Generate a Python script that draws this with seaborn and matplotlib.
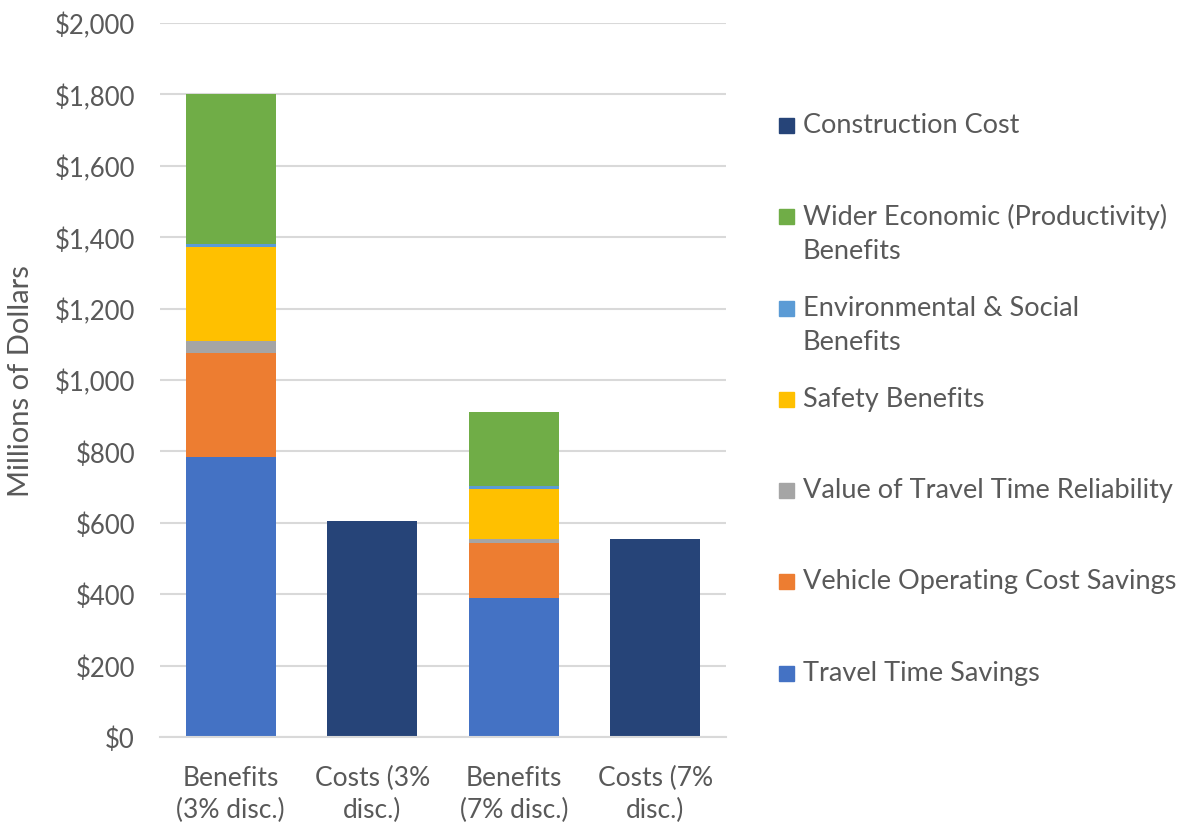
import numpy as np
import pandas as pd
import matplotlib
matplotlib.use("Agg")
import matplotlib.pyplot as plt
import seaborn as sns
from matplotlib.patches import Rectangle
from matplotlib.ticker import FuncFormatter

# categories on the x axis
categories = ["Benefits\n(3% disc.)", "Costs (3%\ndisc.)", "Benefits\n(7% disc.)", "Costs (7%\ndisc.)"]

# stacked series, bottom to top (millions of dollars)
travel_time = [785, 0, 389, 0]
vehicle_operating = [290, 0, 153, 0]
reliability = [34, 0, 13, 0]
safety = [264, 0, 139, 0]
environmental = [8, 0, 8, 0]
wider_economic = [420, 0, 207, 0]
construction = [0, 604, 0, 556]

series_names = ["Travel Time Savings", "Vehicle Operating Cost Savings",
                "Value of Travel Time Reliability", "Safety Benefits",
                "Environmental & Social\nBenefits",
                "Wider Economic (Productivity)\nBenefits", "Construction Cost"]
series_values = [travel_time, vehicle_operating, reliability, safety,
                 environmental, wider_economic, construction]
series_colors = ["#4472C4", "#ED7D31", "#A5A5A5", "#FFC000", "#5B9BD5", "#70AD47", "#264478"]

sns.set_style("white")
plt.rcParams["font.family"] = ["Lato", "DejaVu Sans"]
text_col = "#595959"

fig = plt.figure(figsize=(11.82, 8.29), dpi=100)
ax = fig.add_axes([0.1354, 0.1098, 0.6142 - 0.1354, 0.971 - 0.1098])

bottom = np.zeros(len(categories))
for name, vals, col in zip(series_names, series_values, series_colors):
    df = pd.DataFrame({"cat": categories, "val": vals})
    sns.barplot(data=df, x="cat", y="val", color=col, width=0.635,
                bottom=bottom, ax=ax, saturation=1, linewidth=0)
    bottom = bottom + np.array(vals)

ax.set_ylim(0, 2000)
ax.set_xlim(-0.5, 3.5)
ax.set_yticks(range(0, 2001, 200))
ax.yaxis.set_major_formatter(FuncFormatter(lambda v, p: f"${v:,.0f}"))
ax.grid(axis="y", color="#D9D9D9", linewidth=1.5)
ax.set_axisbelow(True)
for s in ["top", "right", "left"]:
    ax.spines[s].set_visible(False)
ax.spines["bottom"].set_color("#D9D9D9")
ax.spines["bottom"].set_linewidth(1.5)
ax.tick_params(axis="y", length=0, labelsize=18.5, colors=text_col, pad=18)
ax.tick_params(axis="x", length=0, labelsize=19, colors=text_col, pad=20)
for lab in ax.get_xticklabels():
    lab.set_linespacing(1.35)
ax.set_xlabel("")
ax.set_ylabel("Millions of Dollars", fontsize=21, color=text_col)
ax.yaxis.set_label_coords(-0.222, 0.5)

# legend on the right, top entry = last series
W, H = 1182, 829
legend_y = [126, 217, 309, 400, 491, 582, 674]
order = list(range(len(series_names)))[::-1]
for y, i in zip(legend_y, order):
    fig.patches.append(Rectangle(((779) / W, 1 - (y + 7.5) / H), 15 / W, 15 / H,
                                 transform=fig.transFigure, color=series_colors[i]))
    fig.text(803 / W, 1 - (y - 13) / H, series_names[i], fontsize=19.5, color=text_col,
             va="top", ha="left", linespacing=1.45)

fig.savefig("out.png", dpi=100)
